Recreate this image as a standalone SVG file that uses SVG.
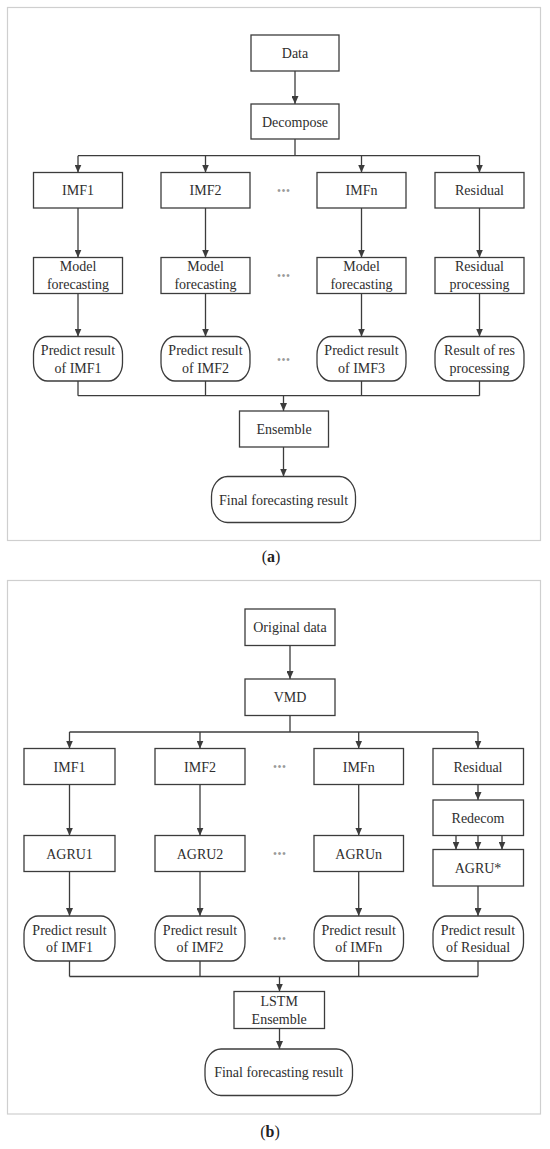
<svg xmlns="http://www.w3.org/2000/svg" width="550" height="1149" viewBox="0 0 550 1149">
<style>
  .frame{fill:none;stroke:#cfcfcf;stroke-width:1.2}
  .box{fill:#fff;stroke:#3c3c3c;stroke-width:1.3}
  .t{font-family:"Liberation Serif","Times New Roman",serif;font-size:14px;fill:#2e2e2e;text-anchor:middle}
  .dots{font-family:"Liberation Sans",Arial,sans-serif;font-size:10px;fill:#9a9a9a;text-anchor:middle;letter-spacing:1px}
  .cap{font-family:"Liberation Serif","Times New Roman",serif;font-size:16px;fill:#222;text-anchor:middle}
  .ln{fill:none;stroke:#3c3c3c;stroke-width:1.3}
  .ar{fill:none;stroke:#3c3c3c;stroke-width:1.3;marker-end:url(#ah)}
</style>
<defs>
  <marker id="ah" markerUnits="userSpaceOnUse" markerWidth="8" markerHeight="7" refX="8" refY="3.5" orient="auto">
    <path d="M0,0 L8,3.5 L0,7 z" fill="#3c3c3c"/>
  </marker>
</defs>
<rect width="550" height="1149" fill="#fff"/>

<!-- Panel (a) -->
<rect class="frame" x="7.5" y="7.5" width="533" height="533"/>
<g id="connectors-a">
  <line class="ar" x1="295" y1="71" x2="295" y2="104"/>
  <polyline class="ln" points="295,139 295,155.7"/>
  <line class="ln" x1="78" y1="155.7" x2="479.5" y2="155.7"/>
  <line class="ar" x1="78" y1="155.7" x2="78" y2="172.5"/>
  <line class="ar" x1="205.5" y1="155.7" x2="205.5" y2="172.5"/>
  <line class="ar" x1="361.5" y1="155.7" x2="361.5" y2="172.5"/>
  <line class="ar" x1="479.5" y1="155.7" x2="479.5" y2="172.5"/>
  <line class="ar" x1="78" y1="208" x2="78" y2="257.5"/>
  <line class="ar" x1="205.5" y1="208" x2="205.5" y2="257.5"/>
  <line class="ar" x1="361.5" y1="208" x2="361.5" y2="257.5"/>
  <line class="ar" x1="479.5" y1="208" x2="479.5" y2="257.5"/>
  <line class="ar" x1="78" y1="293.5" x2="78" y2="336.5"/>
  <line class="ar" x1="205.5" y1="293.5" x2="205.5" y2="336.5"/>
  <line class="ar" x1="361.5" y1="293.5" x2="361.5" y2="336.5"/>
  <line class="ar" x1="479.5" y1="293.5" x2="479.5" y2="336.5"/>
  <line class="ln" x1="78" y1="381" x2="78" y2="395.7"/>
  <line class="ln" x1="205.5" y1="381" x2="205.5" y2="395.7"/>
  <line class="ln" x1="361.5" y1="381" x2="361.5" y2="395.7"/>
  <line class="ln" x1="479.5" y1="381" x2="479.5" y2="395.7"/>
  <line class="ln" x1="78" y1="395.7" x2="479.5" y2="395.7"/>
  <line class="ar" x1="283.5" y1="395.7" x2="283.5" y2="411"/>
  <line class="ar" x1="283.5" y1="447" x2="283.5" y2="476.5"/>
</g>
<g id="a-data"><rect class="box" x="251" y="35" width="88" height="36"/><text class="t" x="295" y="58">Data</text></g>
<g id="a-decompose"><rect class="box" x="251" y="104" width="88" height="35"/><text class="t" x="295" y="126.5">Decompose</text></g>
<g id="a-imf1"><rect class="box" x="33.5" y="172.5" width="89" height="35.5"/><text class="t" x="78" y="195">IMF1</text></g>
<g id="a-imf2"><rect class="box" x="161" y="172.5" width="89" height="35.5"/><text class="t" x="205.5" y="195">IMF2</text></g>
<g id="a-imfn"><rect class="box" x="317" y="172.5" width="89" height="35.5"/><text class="t" x="361.5" y="195">IMFn</text></g>
<g id="a-residual"><rect class="box" x="435" y="172.5" width="89" height="35.5"/><text class="t" x="479.5" y="195">Residual</text></g>
<g id="a-model1"><rect class="box" x="33.5" y="257.5" width="89" height="36"/><text class="t" x="78" y="271">Model</text><text class="t" x="78" y="289">forecasting</text></g>
<g id="a-model2"><rect class="box" x="161" y="257.5" width="89" height="36"/><text class="t" x="205.5" y="271">Model</text><text class="t" x="205.5" y="289">forecasting</text></g>
<g id="a-modeln"><rect class="box" x="317" y="257.5" width="89" height="36"/><text class="t" x="361.5" y="271">Model</text><text class="t" x="361.5" y="289">forecasting</text></g>
<g id="a-resproc"><rect class="box" x="435" y="257.5" width="89" height="36"/><text class="t" x="479.5" y="271">Residual</text><text class="t" x="479.5" y="289">processing</text></g>
<g id="a-pred1"><rect class="box" x="33.5" y="336.5" width="89" height="44.5" rx="14" ry="18"/><text class="t" x="78" y="354.5">Predict result</text><text class="t" x="78" y="372.5">of IMF1</text></g>
<g id="a-pred2"><rect class="box" x="161" y="336.5" width="89" height="44.5" rx="14" ry="18"/><text class="t" x="205.5" y="354.5">Predict result</text><text class="t" x="205.5" y="372.5">of IMF2</text></g>
<g id="a-pred3"><rect class="box" x="317" y="336.5" width="89" height="44.5" rx="14" ry="18"/><text class="t" x="361.5" y="354.5">Predict result</text><text class="t" x="361.5" y="372.5">of IMF3</text></g>
<g id="a-predres"><rect class="box" x="435" y="336.5" width="89" height="44.5" rx="14" ry="18"/><text class="t" x="479.5" y="354.5">Result of res</text><text class="t" x="479.5" y="372.5">processing</text></g>
<g id="a-ensemble"><rect class="box" x="239.5" y="411" width="89" height="36"/><text class="t" x="284" y="434">Ensemble</text></g>
<g id="a-final"><rect class="box" x="211.5" y="476.5" width="144" height="46" rx="16" ry="20"/><text class="t" x="283.5" y="504.5">Final forecasting result</text></g>
<g id="a-dots">
  <text class="dots" x="284" y="193.5">•••</text>
  <text class="dots" x="284" y="279">•••</text>
  <text class="dots" x="284" y="362.5">•••</text>
</g>
<text class="cap" x="271" y="562">(<tspan font-weight="bold">a</tspan>)</text>

<!-- Panel (b) -->
<rect class="frame" x="7.5" y="580.5" width="533" height="533.5"/>
<g id="connectors-b">
  <line class="ar" x1="290" y1="645.5" x2="290" y2="679"/>
  <line class="ln" x1="290" y1="715.5" x2="290" y2="732"/>
  <line class="ln" x1="69.5" y1="732" x2="478" y2="732"/>
  <line class="ar" x1="69.5" y1="732" x2="69.5" y2="748.5"/>
  <line class="ar" x1="200" y1="732" x2="200" y2="748.5"/>
  <line class="ar" x1="358.7" y1="732" x2="358.7" y2="748.5"/>
  <line class="ar" x1="478" y1="732" x2="478" y2="748.5"/>
  <line class="ar" x1="69.5" y1="784.5" x2="69.5" y2="835.5"/>
  <line class="ar" x1="200" y1="784.5" x2="200" y2="835.5"/>
  <line class="ar" x1="358.7" y1="784.5" x2="358.7" y2="835.5"/>
  <line class="ar" x1="478" y1="784.5" x2="478" y2="800"/>
  <line class="ar" x1="456" y1="835.5" x2="456" y2="849.5"/>
  <line class="ar" x1="478" y1="835.5" x2="478" y2="849.5"/>
  <line class="ar" x1="502" y1="835.5" x2="502" y2="849.5"/>
  <line class="ar" x1="69.5" y1="871.5" x2="69.5" y2="916"/>
  <line class="ar" x1="200" y1="871.5" x2="200" y2="916"/>
  <line class="ar" x1="358.7" y1="871.5" x2="358.7" y2="916"/>
  <line class="ar" x1="478" y1="886" x2="478" y2="916"/>
  <line class="ln" x1="69.5" y1="961" x2="69.5" y2="976.5"/>
  <line class="ln" x1="200" y1="961" x2="200" y2="976.5"/>
  <line class="ln" x1="358.7" y1="961" x2="358.7" y2="976.5"/>
  <line class="ln" x1="478" y1="961" x2="478" y2="976.5"/>
  <line class="ln" x1="69.5" y1="976.5" x2="478" y2="976.5"/>
  <line class="ar" x1="279.5" y1="976.5" x2="279.5" y2="991.5"/>
  <line class="ar" x1="279.5" y1="1028.5" x2="279.5" y2="1049"/>
</g>
<g id="b-orig"><rect class="box" x="245" y="609" width="90" height="36.5"/><text class="t" x="290" y="632">Original data</text></g>
<g id="b-vmd"><rect class="box" x="245" y="679" width="90" height="36.5"/><text class="t" x="290" y="702">VMD</text></g>
<g id="b-imf1"><rect class="box" x="24" y="748.5" width="91" height="36"/><text class="t" x="69.5" y="771.5">IMF1</text></g>
<g id="b-imf2"><rect class="box" x="155" y="748.5" width="90" height="36"/><text class="t" x="200" y="771.5">IMF2</text></g>
<g id="b-imfn"><rect class="box" x="314" y="748.5" width="89.5" height="36"/><text class="t" x="358.7" y="771.5">IMFn</text></g>
<g id="b-residual"><rect class="box" x="433" y="748.5" width="90.5" height="36"/><text class="t" x="478" y="771.5">Residual</text></g>
<g id="b-agru1"><rect class="box" x="24" y="835.5" width="91" height="36"/><text class="t" x="69.5" y="858.7">AGRU1</text></g>
<g id="b-agru2"><rect class="box" x="155" y="835.5" width="90" height="36"/><text class="t" x="200" y="858.7">AGRU2</text></g>
<g id="b-agrun"><rect class="box" x="314" y="835.5" width="89.5" height="36"/><text class="t" x="358.7" y="858.7">AGRUn</text></g>
<g id="b-redecom"><rect class="box" x="433" y="800" width="90.5" height="35.5"/><text class="t" x="478" y="823">Redecom</text></g>
<g id="b-agrustar"><rect class="box" x="433" y="849.5" width="90.5" height="36.5"/><text class="t" x="478" y="873">AGRU*</text></g>
<g id="b-pred1"><rect class="box" x="24" y="916" width="91" height="45" rx="14" ry="18"/><text class="t" x="69.5" y="934.5">Predict result</text><text class="t" x="69.5" y="952">of IMF1</text></g>
<g id="b-pred2"><rect class="box" x="155" y="916" width="90" height="45" rx="14" ry="18"/><text class="t" x="200" y="934.5">Predict result</text><text class="t" x="200" y="952">of IMF2</text></g>
<g id="b-predn"><rect class="box" x="314" y="916" width="89.5" height="45" rx="14" ry="18"/><text class="t" x="358.7" y="934.5">Predict result</text><text class="t" x="358.7" y="952">of IMFn</text></g>
<g id="b-predres"><rect class="box" x="433" y="916" width="90.5" height="45" rx="14" ry="18"/><text class="t" x="478" y="934.5">Predict result</text><text class="t" x="478" y="952">of Residual</text></g>
<g id="b-lstm"><rect class="box" x="234" y="991.5" width="90.5" height="37"/><text class="t" x="279.2" y="1006.3">LSTM</text><text class="t" x="279.2" y="1023.8">Ensemble</text></g>
<g id="b-final"><rect class="box" x="205" y="1049" width="147.5" height="46.5" rx="16" ry="20"/><text class="t" x="278.7" y="1077">Final forecasting result</text></g>
<g id="b-dots">
  <text class="dots" x="280" y="770">•••</text>
  <text class="dots" x="280" y="857">•••</text>
  <text class="dots" x="280" y="942">•••</text>
</g>
<text class="cap" x="270" y="1137">(<tspan font-weight="bold">b</tspan>)</text>
</svg>
